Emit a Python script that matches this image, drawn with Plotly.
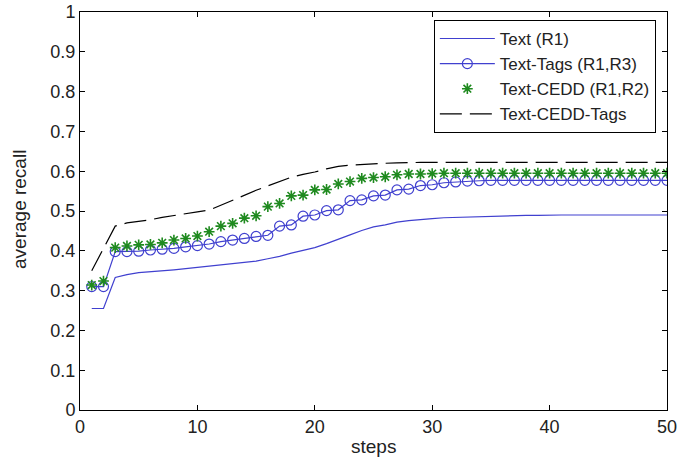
import plotly.graph_objects as go

steps = list(range(1, 51))

text_r1 = [0.255, 0.255, 0.333, 0.340, 0.345, 0.347, 0.349, 0.352, 0.355, 0.358,
           0.361, 0.364, 0.367, 0.370, 0.374, 0.380, 0.386, 0.394, 0.401, 0.408,
           0.418, 0.430, 0.440, 0.451, 0.460, 0.465, 0.472, 0.476, 0.479, 0.481,
           0.483, 0.484, 0.485, 0.486, 0.487, 0.488, 0.488, 0.489, 0.489, 0.490,
           0.490, 0.490, 0.490, 0.490, 0.490, 0.490, 0.490, 0.490, 0.490, 0.490]

text_tags = [0.310, 0.310, 0.398, 0.398, 0.399, 0.402, 0.404, 0.406, 0.410, 0.413,
             0.417, 0.423, 0.427, 0.431, 0.436, 0.439, 0.462, 0.465, 0.487, 0.490,
             0.501, 0.503, 0.526, 0.528, 0.538, 0.540, 0.553, 0.555, 0.564, 0.566,
             0.571, 0.573, 0.575, 0.576, 0.577, 0.577, 0.577, 0.577, 0.577, 0.577,
             0.577, 0.577, 0.577, 0.577, 0.577, 0.577, 0.577, 0.577, 0.577, 0.577]

text_cedd = [0.314, 0.324, 0.408, 0.412, 0.415, 0.416, 0.420, 0.427, 0.431, 0.437,
             0.448, 0.462, 0.469, 0.482, 0.488, 0.511, 0.519, 0.538, 0.540, 0.553,
             0.554, 0.568, 0.574, 0.582, 0.584, 0.586, 0.591, 0.593, 0.593, 0.594,
             0.595, 0.595, 0.595, 0.595, 0.595, 0.595, 0.595, 0.595, 0.595, 0.595,
             0.595, 0.595, 0.595, 0.595, 0.595, 0.595, 0.595, 0.595, 0.595, 0.595]

text_cedd_tags = [0.350, 0.405, 0.462, 0.470, 0.474, 0.478, 0.484, 0.489, 0.494, 0.498,
                  0.502, 0.515, 0.527, 0.540, 0.552, 0.563, 0.574, 0.585, 0.592, 0.598,
                  0.606, 0.612, 0.615, 0.617, 0.619, 0.620, 0.621, 0.622, 0.622, 0.622,
                  0.622, 0.622, 0.622, 0.622, 0.622, 0.622, 0.622, 0.622, 0.622, 0.622,
                  0.622, 0.622, 0.622, 0.622, 0.622, 0.622, 0.622, 0.622, 0.622, 0.622]

x_ticks = [0, 10, 20, 30, 40, 50]
y_ticks = [0, 0.1, 0.2, 0.3, 0.4, 0.5, 0.6, 0.7, 0.8, 0.9, 1]
y_tick_labels = ["0", "0.1", "0.2", "0.3", "0.4", "0.5", "0.6", "0.7", "0.8", "0.9", "1"]
x_title = "steps"
y_title = "average recall"

BLUE = "#4040cf"
GREEN = "#1f8a1f"
FONT = "Arial, Liberation Sans, sans-serif"

fig = go.Figure()
fig.add_trace(go.Scatter(x=steps, y=text_r1, mode="lines", name="Text (R1)",
                         line=dict(color=BLUE, width=1.2)))
fig.add_trace(go.Scatter(x=steps, y=text_tags, mode="lines+markers", name="Text-Tags (R1,R3)",
                         line=dict(color=BLUE, width=1.2),
                         marker=dict(symbol="circle-open", size=10, color=BLUE,
                                     line=dict(color=BLUE, width=1.2))))
fig.add_trace(go.Scatter(x=steps, y=text_cedd, mode="markers", name="Text-CEDD (R1,R2)",
                         marker=dict(symbol="asterisk-open", size=9, color=GREEN,
                                     line=dict(color=GREEN, width=1.6))))
fig.add_trace(go.Scatter(x=steps, y=text_cedd_tags, mode="lines", name="Text-CEDD-Tags",
                         line=dict(color="black", width=1.2, dash="22px,8px")))

axis_common = dict(showline=True, linecolor="black", linewidth=1, mirror="ticks",
                   ticks="inside", ticklen=5, tickcolor="black", showgrid=False,
                   zeroline=False, automargin=False,
                   tickfont=dict(family=FONT, size=18, color="#222"))

fig.update_layout(
    width=678, height=461,
    margin=dict(l=80, r=11, t=12, b=51),
    paper_bgcolor="white", plot_bgcolor="white",
    font=dict(family=FONT, color="#222"),
    xaxis=dict(range=[0, 50], tickvals=x_ticks, **axis_common),
    yaxis=dict(range=[0, 1], tickvals=y_ticks, ticktext=y_tick_labels, **axis_common),
    legend=dict(x=0.981, y=0.98, xanchor="right", yanchor="top",
                bordercolor="black", borderwidth=1, bgcolor="white",
                font=dict(family=FONT, size=17, color="#222"),
                itemwidth=55, tracegroupgap=0),
    showlegend=True,
    annotations=[
        dict(text=x_title, xref="paper", yref="paper", x=0.5, y=-0.092,
             xanchor="center", yanchor="middle", showarrow=False,
             font=dict(family=FONT, size=19, color="#222")),
        dict(text=y_title, xref="paper", yref="paper", x=-0.104, y=0.505,
             xanchor="center", yanchor="middle", showarrow=False, textangle=-90,
             font=dict(family=FONT, size=19, color="#222")),
    ],
)

fig.write_html(
    "out.html",
    config={"displayModeBar": False},
    post_script="document.body.style.margin='0px';document.body.style.overflow='hidden';",
)
